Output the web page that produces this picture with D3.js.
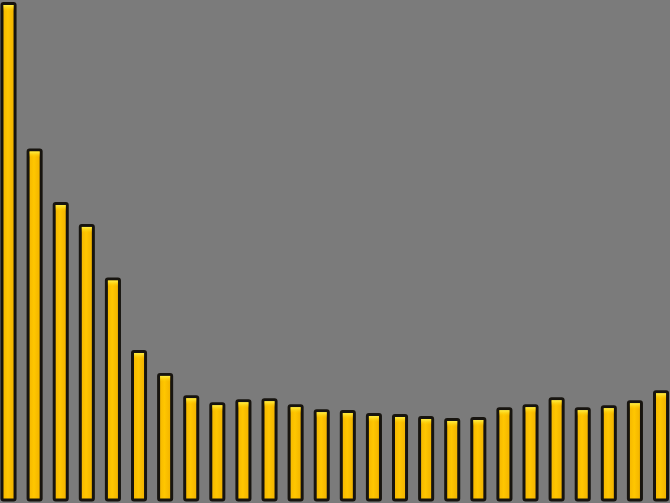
<!DOCTYPE html>
<html>
<head>
<meta charset="utf-8">
<script src="https://cdn.jsdelivr.net/npm/d3@7"></script>
<style>
  html, body { margin: 0; padding: 0; background: #7b7b7b; }
  svg { display: block; }
</style>
</head>
<body>
<svg id="chart" width="670" height="503"></svg>
<script>
// Bar heights, tallest bar = 100
const categories = d3.range(1, 27).map(String);
const values = [100, 70.5, 59.7, 55.3, 44.5, 29.9, 25.3, 20.8, 19.4, 20.0,
                20.2, 19.0, 18.0, 17.8, 17.2, 17.0, 16.6, 16.2, 16.4, 18.4,
                19.0, 20.4, 18.4, 18.8, 19.8, 21.8];

const W = 670, H = 503;
const svg = d3.select('#chart');

svg.append('rect')
  .attr('width', W).attr('height', H)
  .attr('fill', '#7b7b7b');

const defs = svg.append('defs');

// gold fill, a touch lighter in the middle
const fillGrad = defs.append('linearGradient')
  .attr('id', 'barFill')
  .attr('x1', '0').attr('x2', '1').attr('y1', '0').attr('y2', '0');
fillGrad.append('stop').attr('offset', '0%').attr('stop-color', '#f2b500');
fillGrad.append('stop').attr('offset', '45%').attr('stop-color', '#ffc600');
fillGrad.append('stop').attr('offset', '100%').attr('stop-color', '#efb000');

// small bright cap at the top of every bar
const capGrad = defs.append('linearGradient')
  .attr('id', 'barCap')
  .attr('x1', '0').attr('x2', '0').attr('y1', '0').attr('y2', '1');
capGrad.append('stop').attr('offset', '0%').attr('stop-color', '#fff04a').attr('stop-opacity', 1);
capGrad.append('stop').attr('offset', '100%').attr('stop-color', '#ffd000').attr('stop-opacity', 0);

const n = categories.length;
const step = 26.1;
const x = d3.scaleBand()
  .domain(categories)
  .range([2, 2 + step * (n - 0.5)])
  .paddingInner(0.5)
  .paddingOuter(0);

const y = d3.scaleLinear()
  .domain([0, 100])
  .range([500, 3.5]);

const bars = svg.append('g').attr('class', 'bars')
  .selectAll('g')
  .data(values.map((v, i) => ({ cat: categories[i], v })))
  .join('g');

bars.append('rect')
  .attr('x', d => x(d.cat))
  .attr('y', d => y(d.v))
  .attr('width', x.bandwidth())
  .attr('height', d => y(0) - y(d.v))
  .attr('rx', 1.5)
  .attr('fill', 'url(#barFill)')
  .attr('stroke', '#17140f')
  .attr('stroke-width', 3);

bars.append('rect')
  .attr('x', d => x(d.cat) + 1.5)
  .attr('y', d => y(d.v) + 1.5)
  .attr('width', x.bandwidth() - 3)
  .attr('height', 6)
  .attr('fill', 'url(#barCap)');
</script>
</body>
</html>
